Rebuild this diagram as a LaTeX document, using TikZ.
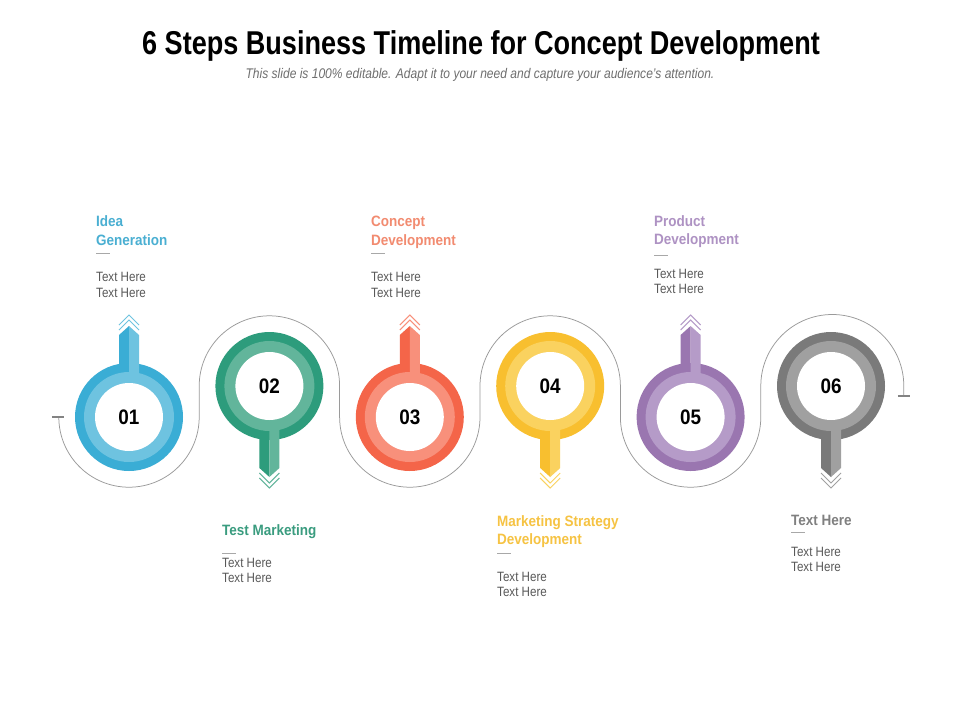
\documentclass[tikz,border=0pt]{standalone}
\usepackage{fontspec}
\usetikzlibrary{calc}
\setmainfont{Liberation Sans}
\newfontfamily\titlefont[FakeStretch=0.82]{Liberation Sans}
\newfontfamily\headfont[FakeStretch=0.9]{Liberation Sans}
\newfontfamily\bodyfont[FakeStretch=0.86]{Liberation Sans}
\definecolor{aD}{HTML}{3AADD5}\definecolor{aL}{HTML}{6EC3E0}\definecolor{aT}{HTML}{4AAFD2}
\definecolor{bD}{HTML}{2D9C7C}\definecolor{bL}{HTML}{62B59B}\definecolor{bT}{HTML}{3A9C7F}
\definecolor{cD}{HTML}{F46549}\definecolor{cL}{HTML}{F8907B}\definecolor{cT}{HTML}{F28B70}
\definecolor{dD}{HTML}{F8BF2F}\definecolor{dL}{HTML}{FAD25F}\definecolor{dT}{HTML}{F6C343}
\definecolor{eD}{HTML}{9A76B0}\definecolor{eL}{HTML}{B59BC8}\definecolor{eT}{HTML}{AE92C3}
\definecolor{fD}{HTML}{7A7A7A}\definecolor{fL}{HTML}{A0A0A0}\definecolor{fT}{HTML}{808080}
\definecolor{bodygray}{HTML}{595959}
\definecolor{subgray}{HTML}{6E6E6E}
\definecolor{wavegray}{HTML}{9A9A9A}
\definecolor{dashgray}{HTML}{A8A8A8}
% #1 name, #2 cx, #3 cy, #4 direction (1 up, -1 down), #5 dark, #6 light, #7 number
\newcommand\mystep[7]{%
  \node[ring, fill=#5] (#1) at (#2,#3) {};
  \begin{scope}[shift={(#1.center)}, yscale=#4]
    \fill[#5] (-10,0) -- (-10,82) -- (0,91) -- (0,0) -- cycle;
    \fill[#6] (0,0) -- (0,91) -- (10,82) -- (10,0) -- cycle;
    \draw[chev, #6] (-10,92) -- (0,102) -- (10,92);
    \draw[chev, #6] (-10,87) -- (0,97) -- (10,87);
  \end{scope}
  \fill[#6] (#1.center) circle[radius=45pt];
  \node[core] (#1n) at (#1.center) {#7};
}
\begin{document}
\begin{tikzpicture}[x=1pt,y=1pt,
  ring/.style={circle, minimum size=108pt, inner sep=0pt},
  core/.style={circle, fill=white, minimum size=68pt, inner sep=0pt,
    font=\headfont\bfseries\fontsize{21}{21}\selectfont, text=black},
  chev/.style={line width=1pt, line join=miter},
  wave/.style={draw=wavegray, line width=0.75pt},
  tick/.style={draw=wavegray!85!black, line width=1.3pt},
  head/.style={anchor=base west, inner sep=0pt, font=\headfont\bfseries\fontsize{15}{18}\selectfont},
  body/.style={anchor=base west, inner sep=0pt, text=bodygray, font=\bodyfont\fontsize{13.5}{16}\selectfont},
  dashline/.style={draw=dashgray, line width=0.8pt}]
\useasboundingbox[fill=white] (0,0) rectangle (960,-720);

% title
\node[anchor=base, inner sep=0pt, font=\titlefont\bfseries\fontsize{33}{36}\selectfont] (title) at (481,-54) {6 Steps Business Timeline for Concept Development};
\node[anchor=base, inner sep=0pt, text=subgray, font=\bodyfont\itshape\fontsize{14}{16}\selectfont] (sub) at (480,-78) {This slide is 100\% editable. Adapt it to your need and capture your audience’s attention.};

% wave line
\coordinate (wstart) at (58.8,-417);
\draw[wave] (wstart)
  arc[start angle=180, end angle=360, radius=70.2pt] -- ++(0,31)
  arc[start angle=180, end angle=0, radius=70.2pt] -- ++(0,-31)
  arc[start angle=180, end angle=360, radius=70.2pt] -- ++(0,31)
  arc[start angle=180, end angle=0, radius=70.2pt] -- ++(0,-31)
  arc[start angle=180, end angle=360, radius=70.2pt] -- ++(0,31)
  arc[start angle=180, end angle=0, radius=71.5pt] -- ++(0,-10) coordinate (wend);
\draw[tick] ($(wstart)+(-7,0)$) -- ($(wstart)+(5,0)$);
\draw[tick] ($(wend)+(-6,0)$) -- ($(wend)+(6,0)$);

% steps
\mystep{s1}{129}{-417}{1}{aD}{aL}{01}
\mystep{s2}{269.4}{-386}{-1}{bD}{bL}{02}
\mystep{s3}{409.8}{-417}{1}{cD}{cL}{03}
\mystep{s4}{550.2}{-386}{-1}{dD}{dL}{04}
\mystep{s5}{690.6}{-417}{1}{eD}{eL}{05}
\mystep{s6}{831}{-386}{-1}{fD}{fL}{06}

% texts 01
\node[head, text=aT] (t1a) at (96,-226) {Idea};
\node[head, text=aT] (t1b) at (96,-245) {Generation};
\draw[dashline] (96,-253.5) -- (110,-253.5);
\node[body] (t1c) at (96,-281) {Text Here};
\node[body] (t1d) at (96,-297) {Text Here};
% texts 03
\node[head, text=cT] (t3a) at (371,-226) {Concept};
\node[head, text=cT] (t3b) at (371,-245) {Development};
\draw[dashline] (371,-253.5) -- (385,-253.5);
\node[body] (t3c) at (371,-281) {Text Here};
\node[body] (t3d) at (371,-297) {Text Here};
% texts 05
\node[head, text=eT] (t5a) at (654,-226) {Product};
\node[head, text=eT] (t5b) at (654,-244.5) {Development};
\draw[dashline] (654,-255) -- (668,-255);
\node[body] (t5c) at (654,-278) {Text Here};
\node[body] (t5d) at (654,-293) {Text Here};
% texts 02
\node[head, text=bT] (t2a) at (222,-535) {Test Marketing};
\draw[dashline] (222,-553) -- (236,-553);
\node[body] (t2c) at (222,-567.5) {Text Here};
\node[body] (t2d) at (222,-582.5) {Text Here};
% texts 04
\node[head, text=dT] (t4a) at (497,-526) {Marketing Strategy};
\node[head, text=dT] (t4b) at (497,-544.5) {Development};
\draw[dashline] (497,-553) -- (511,-553);
\node[body] (t4c) at (497,-581) {Text Here};
\node[body] (t4d) at (497,-596) {Text Here};
% texts 06
\node[head, text=fT] (t6a) at (791,-525) {Text Here};
\draw[dashline] (791,-532.5) -- (805,-532.5);
\node[body] (t6c) at (791,-556) {Text Here};
\node[body] (t6d) at (791,-571.5) {Text Here};
\end{tikzpicture}
\end{document}
